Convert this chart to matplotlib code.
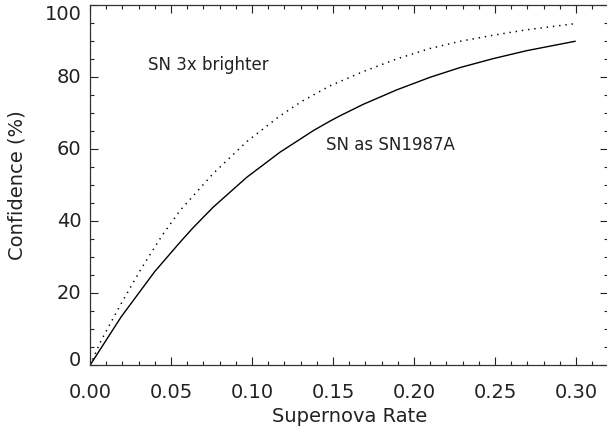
import matplotlib
matplotlib.use("Agg")
import matplotlib.pyplot as plt
from matplotlib.ticker import MultipleLocator, NullFormatter

# Data
rate_solid = [0.0, 0.0193, 0.0399, 0.0556, 0.0636, 0.0761, 0.0967, 0.1173, 0.1379, 0.148,
              0.1543, 0.1687, 0.1893, 0.2099, 0.2284, 0.249, 0.2696, 0.2994]
conf_solid = [0.0, 13.5, 26.0, 34.2, 38.2, 43.95, 52.2, 59.2, 65.2, 67.8,
              69.3, 72.5, 76.5, 80.0, 82.7, 85.2, 87.4, 90.0]

rate_dot = [0.0, 0.007, 0.0193, 0.0317, 0.045, 0.0556, 0.0761, 0.0967, 0.1173, 0.1307,
            0.148, 0.1687, 0.1893, 0.2099, 0.2284, 0.249, 0.2696, 0.2994]
conf_dot = [0.0, 7.0, 17.2, 26.9, 36.4, 43.0, 53.3, 62.1, 69.3, 73.3,
            77.6, 81.6, 85.1, 88.0, 90.0, 91.7, 93.2, 94.9]

yticks = [0, 20, 40, 60, 80, 100]
xlabel = "Supernova Rate"
ylabel = "Confidence (%)"
label_bright = "SN 3x brighter"
label_87a = "SN as SN1987A"

TXT = "#222222"
W, H = 607, 432
fig = plt.figure(figsize=(W / 100, H / 100), dpi=100)
left, right = 90 / W, 608.4 / W
bottom, top = (H - 365.3) / H, (H - 5.3) / H
ax = fig.add_axes([left, bottom, right - left, top - bottom])

ax.plot(rate_solid, conf_solid, color="black", lw=1.0, solid_joinstyle="round")
ax.plot(rate_dot, conf_dot, color="black", lw=1.1, linestyle=(0, (0.9, 3.2)))

ax.set_xlim(0, 0.32)
ax.set_ylim(0, 100)
ax.xaxis.set_major_locator(MultipleLocator(0.05))
ax.xaxis.set_minor_locator(MultipleLocator(0.01))
ax.set_yticks(yticks)
ax.yaxis.set_minor_locator(MultipleLocator(5))
ax.yaxis.set_major_formatter(NullFormatter())
ax.xaxis.set_major_formatter(plt.FormatStrFormatter("%.2f"))

ax.tick_params(which="both", direction="in", top=True, right=True, width=0.8, color="#222222")
ax.tick_params(which="major", length=5.8)
ax.tick_params(which="minor", length=3)
ax.tick_params(axis="x", which="major", labelsize=14, pad=13, labelcolor=TXT)
for s in ax.spines.values():
    s.set_linewidth(0.9)
    s.set_color("#333333")

# y tick labels (IDL-style: end labels nudged inside the axis range)
ax_w_px = (right - left) * W
ax_h_px = (top - bottom) * H
for v in yticks:
    off = 0.0
    if v == yticks[-1]:
        off = -9.0
    elif v == yticks[0]:
        off = 5.0
    ax.text(-8.5 / ax_w_px, (v - 0) / 100 + off / ax_h_px, str(v), transform=ax.transAxes,
            ha="right", va="center", fontsize=14, color=TXT)

ax.set_xlabel(xlabel, fontsize=14, color=TXT, labelpad=3)
fig.text(17.5 / W, 1 - 185 / H, ylabel, rotation=90, ha="center", va="center",
         fontsize=14, color=TXT)

ax.text(0.0356, 83.4, label_bright, fontsize=12, va="center", ha="left", color=TXT)
ax.text(0.1457, 61.2, label_87a, fontsize=12, va="center", ha="left", color=TXT)

fig.savefig("out.png", dpi=100)
